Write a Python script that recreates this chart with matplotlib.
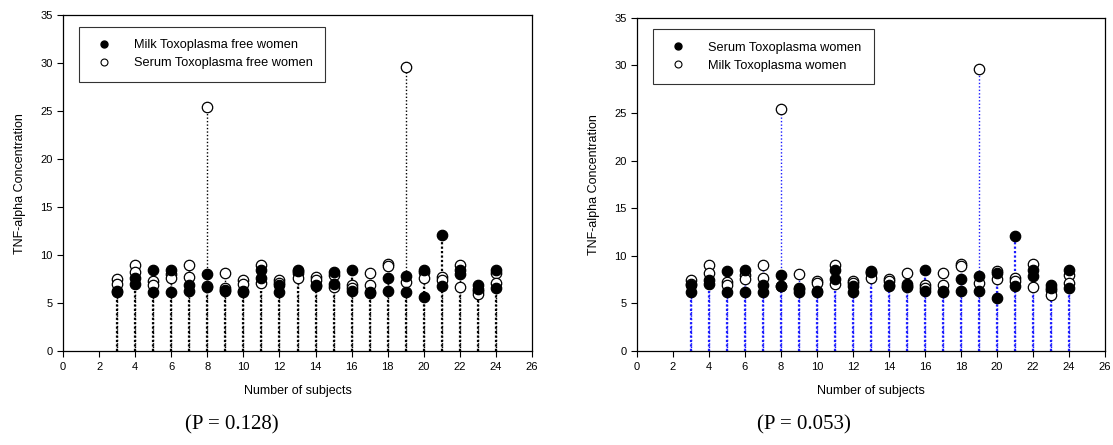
import matplotlib
matplotlib.use("Agg")
import matplotlib.pyplot as plt
from matplotlib.lines import Line2D
import numpy as np

plt.rcParams['font.family'] = ['Liberation Sans', 'DejaVu Sans']

subjects = list(range(3, 25))

# left panel: milk (filled) vs serum (open), toxoplasma free women
milk_free_a = [6.2, 7.6, 8.5, 8.4, 6.9, 8.0, 6.3, 6.2, 8.5, 6.9, 8.5, 6.9, 8.2, 8.5, 6.2, 7.6, 7.8, 8.4, 12.1, 8.5, 6.9, 8.5]
milk_free_b = [6.3, 7.0, 6.2, 6.2, 6.3, 6.7, 6.4, 6.3, 7.6, 6.2, 8.3, 6.8, 7.0, 6.3, 6.1, 6.3, 6.2, 5.6, 6.8, 8.0, 6.5, 6.6]
serum_free_a = [7.5, 9.0, 7.3, 8.0, 9.0, 25.4, 8.1, 7.4, 9.0, 7.4, 8.1, 7.7, 7.9, 6.9, 8.1, 9.1, 29.6, 8.2, 7.7, 9.0, 6.3, 8.1]
serum_free_b = [7.0, 8.2, 6.9, 7.6, 7.7, 6.8, 6.6, 7.0, 7.1, 7.1, 7.6, 7.4, 6.7, 6.6, 6.9, 8.9, 7.2, 7.6, 7.4, 6.7, 5.9, 7.1]

# right panel: serum (filled) vs milk (open), toxoplasma women
serum_tox_a = [6.9, 7.5, 8.4, 8.5, 6.9, 8.0, 6.6, 6.2, 8.5, 6.8, 8.4, 6.8, 7.0, 8.5, 6.3, 7.6, 7.9, 8.2, 12.1, 8.5, 6.9, 8.5]
serum_tox_b = [6.2, 7.0, 6.2, 6.2, 6.2, 6.8, 6.2, 6.3, 7.6, 6.2, 8.3, 6.9, 6.8, 6.3, 6.2, 6.3, 6.3, 5.6, 6.8, 7.9, 6.6, 6.6]
milk_tox_a = [7.5, 9.0, 7.3, 8.0, 9.0, 25.4, 8.1, 7.4, 9.0, 7.4, 8.2, 7.6, 8.2, 6.9, 8.2, 9.1, 29.6, 8.4, 7.7, 9.1, 6.4, 8.0]
milk_tox_b = [7.0, 8.2, 6.9, 7.6, 7.7, 6.8, 6.5, 7.1, 7.0, 7.1, 7.7, 7.4, 6.7, 6.6, 6.9, 8.9, 7.2, 7.6, 7.4, 6.7, 5.9, 7.1]

panels = [
    dict(filled=(milk_free_a, milk_free_b), hollow=(serum_free_a, serum_free_b),
         labels=('Milk Toxoplasma free women', 'Serum Toxoplasma free women'),
         stem='black', pval='(P = 0.128)', rect=[0.0566, 0.211, 0.4214, 0.755], px=0.2085),
    dict(filled=(serum_tox_a, serum_tox_b), hollow=(milk_tox_a, milk_tox_b),
         labels=('Serum Toxoplasma women', 'Milk Toxoplasma women'),
         stem='#1a1aff', pval='(P = 0.053)', rect=[0.5723, 0.211, 0.4205, 0.749], px=0.722),
]

fig = plt.figure(figsize=(11.13, 4.45), dpi=100)

for p in panels:
    ax = fig.add_axes(p['rect'])
    x = np.array(subjects)
    fmax = np.maximum(p['filled'][0], p['filled'][1])
    hmax = np.maximum(p['hollow'][0], p['hollow'][1])
    ax.vlines(x, 0, hmax, colors=p['stem'], linestyles=(0, (1, 1.5)), lw=1.0, zorder=1)
    ax.vlines(x, 0, fmax, colors=p['stem'], linestyles=(0, (1, 1)), lw=1.6, zorder=1)
    for vals in p['hollow']:
        ax.plot(x, vals, 'o', ms=7.5, mfc='white', mec='black', mew=0.9, ls='none', zorder=3)
    for vals in p['filled']:
        ax.plot(x, vals, 'o', ms=7.5, mfc='black', mec='black', mew=0.9, ls='none', zorder=4)

    ax.set_xlim(0, 26)
    ax.set_ylim(0, 35)
    ax.set_xticks(range(0, 27, 2))
    ax.set_yticks(range(0, 36, 5))
    ax.tick_params(direction='out', length=4, width=0.8, labelsize=8, top=False, right=False)
    for s in ax.spines.values():
        s.set_linewidth(0.9)
    ax.set_xlabel('Number of subjects', fontsize=9, labelpad=10)
    ax.set_ylabel('TNF-alpha Concentration', fontsize=9, labelpad=10)

    handles = [Line2D([], [], marker='o', ls='none', ms=5, mfc='black', mec='black'),
               Line2D([], [], marker='o', ls='none', ms=5, mfc='white', mec='black', mew=0.8)]
    leg = ax.legend(handles, p['labels'], loc='upper left', fontsize=9.2, frameon=True,
                    fancybox=False, edgecolor='black', borderpad=1.0, handletextpad=1.3,
                    labelspacing=0.45, bbox_to_anchor=(0.02, 0.985))
    leg.get_frame().set_linewidth(0.8)

    fig.text(p['px'], 0.045, p['pval'], ha='center', va='center', fontsize=15,
             family=['Liberation Serif', 'DejaVu Serif'])

fig.savefig('out.png', dpi=100)
